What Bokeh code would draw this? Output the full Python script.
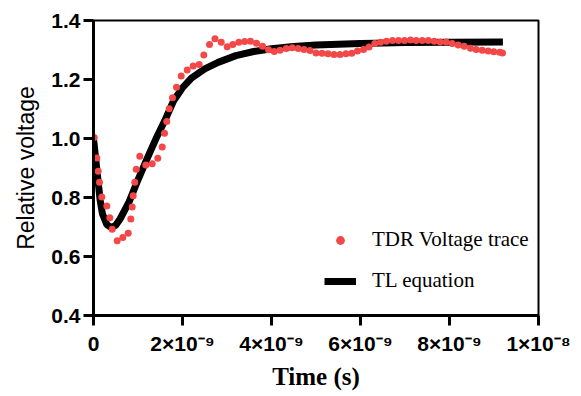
from bokeh.plotting import figure
from bokeh.models import Range1d, FixedTicker, Legend, LegendItem
from bokeh.embed import file_html
from bokeh.resources import INLINE

# TDR voltage trace (time in units of 1e-9 s)
tdr_time_ns = [0.016, 0.074, 0.106, 0.135, 0.187, 0.299, 0.366, 0.420, 0.533, 0.658,
               0.780, 0.838, 0.870, 0.892, 0.928, 0.960, 1.040,
               1.175, 1.319, 1.445, 1.544, 1.596, 1.647, 1.701, 1.775, 1.865, 1.971,
               2.106, 2.240, 2.375, 2.479, 2.607, 2.730, 2.870, 3.004, 3.130, 3.265,
               3.398, 3.528, 3.663, 3.798, 3.933, 4.061, 4.191, 4.333, 4.467, 4.600,
               4.730, 4.865, 5.000, 5.135, 5.270, 5.404, 5.539, 5.674, 5.804, 5.933,
               6.067, 6.191, 6.321, 6.449, 6.584, 6.719, 6.854, 6.989, 7.124, 7.252,
               7.387, 7.521, 7.656, 7.791, 7.926, 8.061, 8.196, 8.330, 8.472, 8.600,
               8.735, 8.870, 8.996, 9.130, 9.191]
tdr_voltage = [1.003, 0.934, 0.889, 0.852, 0.802, 0.771, 0.731, 0.692, 0.653, 0.664,
               0.679, 0.727, 0.768, 0.806, 0.852, 0.896, 0.940,
               0.910, 0.914, 0.933, 0.971, 1.018, 1.058, 1.101, 1.138, 1.174, 1.212,
               1.232, 1.246, 1.251, 1.283, 1.319, 1.338, 1.326, 1.311, 1.319, 1.326,
               1.329, 1.330, 1.323, 1.313, 1.301, 1.295, 1.299, 1.305, 1.308, 1.305,
               1.302, 1.298, 1.290, 1.289, 1.287, 1.285, 1.285, 1.287, 1.289, 1.297,
               1.302, 1.310, 1.322, 1.326, 1.330, 1.332, 1.332, 1.332, 1.334, 1.332,
               1.332, 1.332, 1.330, 1.327, 1.327, 1.322, 1.317, 1.313, 1.306, 1.302,
               1.299, 1.297, 1.294, 1.292, 1.290]

# TL equation curve
tl_time_ns = [0, 0.05, 0.1, 0.15, 0.2, 0.3, 0.4, 0.5, 0.6, 0.8, 1.0, 1.2, 1.4, 1.6,
              1.8, 2.0, 2.2, 2.5, 2.8, 3.2, 3.6, 4.0, 4.5, 5.0, 6.0, 7.0, 8.0, 9.2]
tl_voltage = [1.0, 0.93, 0.86, 0.79, 0.745, 0.708, 0.698, 0.706, 0.728, 0.785, 0.86,
              0.93, 0.998, 1.06, 1.128, 1.172, 1.205, 1.236, 1.258, 1.281, 1.295,
              1.304, 1.312, 1.317, 1.322, 1.325, 1.326, 1.327]

x_ticks = [0, 2, 4, 6, 8, 10]
x_tick_labels = ["0", "2×10⁻⁹", "4×10⁻⁹", "6×10⁻⁹", "8×10⁻⁹", "1×10⁻⁸"]
y_ticks = [0.4, 0.6, 0.8, 1.0, 1.2, 1.4]
y_tick_labels = ["0.4", "0.6", "0.8", "1.0", "1.2", "1.4"]

p = figure(width=575, height=392, output_backend="svg", toolbar_location=None,
           x_range=Range1d(0, 10), y_range=Range1d(0.4, 1.4),
           min_border_left=93, min_border_right=37, min_border_top=20, min_border_bottom=74)

p.background_fill_color = "white"
p.border_fill_color = "white"
p.outline_line_color = "black"
p.outline_line_width = 2
p.xgrid.visible = False
p.ygrid.visible = False

tl = p.line(tl_time_ns, tl_voltage, line_color="black", line_width=7)
tdr = p.scatter(tdr_time_ns, tdr_voltage, size=7, fill_color="#F44848",
                line_color="#F44848", line_width=0)

for ax in (p.xaxis[0], p.yaxis[0]):
    ax.axis_line_width = 3
    ax.axis_line_color = "black"
    ax.major_tick_line_width = 3
    ax.major_tick_line_color = "black"
    ax.major_tick_out = 10
    ax.major_tick_in = 0
    ax.minor_tick_out = 0
    ax.minor_tick_in = 0
    ax.major_label_text_font = "Liberation Sans"
    ax.major_label_text_font_style = "bold"
    ax.major_label_text_font_size = "21px"
    ax.major_label_text_color = "black"

p.xaxis[0].ticker = FixedTicker(ticks=x_ticks)
p.xaxis[0].major_label_overrides = {t: l for t, l in zip(x_ticks, x_tick_labels)}
p.xaxis[0].major_label_standoff = 6
p.xaxis[0].axis_label = "Time (s)"
p.xaxis[0].axis_label_text_font = "Liberation Serif"
p.xaxis[0].axis_label_text_font_style = "bold"
p.xaxis[0].axis_label_text_font_size = "25px"
p.xaxis[0].axis_label_text_color = "black"
p.xaxis[0].axis_label_standoff = 5

p.yaxis[0].ticker = FixedTicker(ticks=y_ticks)
p.yaxis[0].major_label_overrides = {t: l for t, l in zip(y_ticks, y_tick_labels)}
p.yaxis[0].major_label_standoff = 3
p.yaxis[0].axis_label = "Relative voltage"
p.yaxis[0].axis_label_text_font = "Liberation Sans"
p.yaxis[0].axis_label_text_font_style = "normal"
p.yaxis[0].axis_label_text_font_size = "23px"
p.yaxis[0].axis_label_text_color = "black"
p.yaxis[0].axis_label_standoff = 9

legend = Legend(items=[LegendItem(label="TDR Voltage trace", renderers=[tdr]),
                       LegendItem(label="TL equation", renderers=[tl])],
                location=(231, 22))
legend.border_line_color = None
legend.background_fill_alpha = 0
legend.label_text_font = "Liberation Serif"
legend.label_text_font_size = "21px"
legend.label_text_color = "black"
legend.glyph_width = 32
legend.glyph_height = 22
legend.label_standoff = 16
legend.spacing = 16
legend.padding = 10
p.add_layout(legend, "center")

open("out.html", "w").write(file_html(p, INLINE))
